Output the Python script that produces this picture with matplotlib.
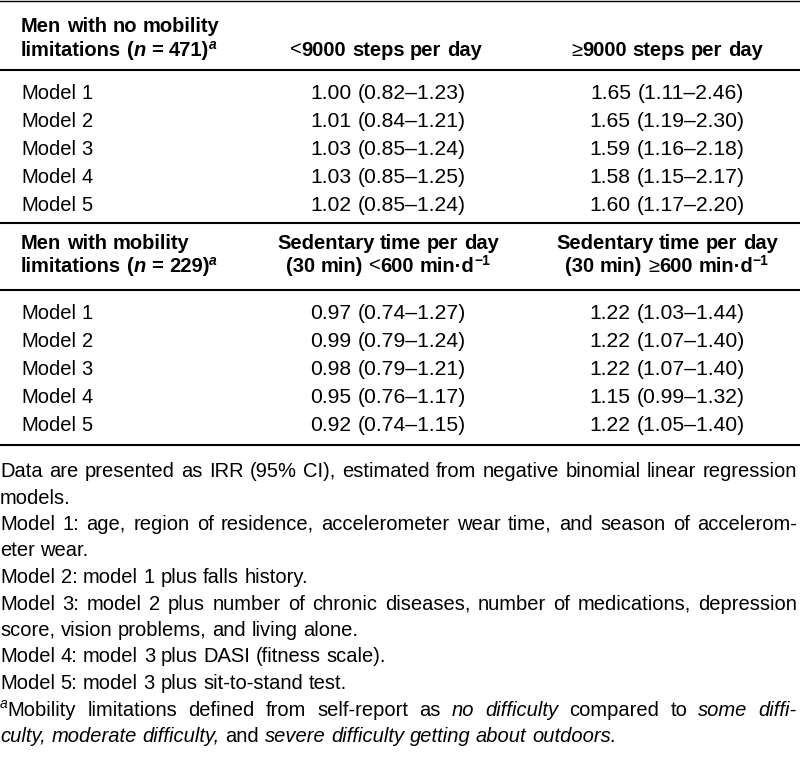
import matplotlib
matplotlib.use("Agg")
import matplotlib.pyplot as plt

plt.rcParams['font.family'] = ['Liberation Sans', 'DejaVu Sans']

# Table data
models = ["Model 1", "Model 2", "Model 3", "Model 4", "Model 5"]

# Men with no mobility limitations: steps per day
lt9000_irr = [1.00, 1.01, 1.03, 1.03, 1.02]
lt9000_lo = [0.82, 0.84, 0.85, 0.85, 0.85]
lt9000_hi = [1.23, 1.21, 1.24, 1.25, 1.24]
ge9000_irr = [1.65, 1.65, 1.59, 1.58, 1.60]
ge9000_lo = [1.11, 1.19, 1.16, 1.15, 1.17]
ge9000_hi = [2.46, 2.30, 2.18, 2.17, 2.20]

# Men with mobility limitations: sedentary time per day
lt600_irr = [0.97, 0.99, 0.98, 0.95, 0.92]
lt600_lo = [0.74, 0.79, 0.79, 0.76, 0.74]
lt600_hi = [1.27, 1.24, 1.21, 1.17, 1.15]
ge600_irr = [1.22, 1.22, 1.22, 1.15, 1.22]
ge600_lo = [1.03, 1.07, 1.07, 0.99, 1.05]
ge600_hi = [1.44, 1.40, 1.40, 1.32, 1.40]

# Header cells: list of lines, each line a list of (text, style) runs
head1_col1 = [[("Men with no mobility", "b")],
              [("limitations (", "b"), ("n", "bi"), (" = 471)", "b"), ("a", "sup_bi")]]
head1_col2 = [[], [("<", "r"), ("9000 steps per day", "b")]]
head1_col3 = [[], [("\u2265", "r"), ("9000 steps per day", "b")]]
head2_col1 = [[("Men with mobility", "b")],
              [("limitations (", "b"), ("n", "bi"), (" = 229)", "b"), ("a", "sup_bi")]]
head2_col2 = [[("Sedentary time per day", "b")],
              [("(30 min) ", "b"), ("<", "r"), ("600 min\u00b7d", "b"), ("\u22121", "sup_b")]]
head2_col3 = [[("Sedentary time per day", "b")],
              [("(30 min) ", "b"), ("\u2265", "r"), ("600 min\u00b7d", "b"), ("\u22121", "sup_b")]]

# Footnotes: (runs, justified)
notes = [
    ([("Data are presented as IRR (95% CI), estimated from negative binomial linear regression", "r")], True),
    ([("models.", "r")], False),
    ([("Model 1: age, region of residence, accelerometer wear time, and season of accelerom-", "r")], True),
    ([("eter wear.", "r")], False),
    ([("Model 2: model 1 plus falls history.", "r")], False),
    ([("Model 3: model 2 plus number of chronic diseases, number of medications, depression", "r")], True),
    ([("score, vision problems, and living alone.", "r")], False),
    ([("Model 4: model 3 plus DASI (fitness scale).", "r")], False),
    ([("Model 5: model 3 plus sit-to-stand test.", "r")], False),
    ([("a", "sup_i"), ("Mobility limitations defined from self-report as ", "r"), ("no difficulty", "i"),
      (" compared to ", "r"), ("some diffi-", "i")], True),
    ([("culty,", "i"), (" ", "r"), ("moderate difficulty,", "i"), (" and ", "r"),
      ("severe difficulty getting about outdoors.", "i")], False),
]

FS = 14.5
SUP = 10
STYLES = {
    "r": dict(weight="normal", style="normal", size=FS, dy=0),
    "d": dict(weight="normal", style="normal", size=15.2, dy=0),   # numeric cells
    "i": dict(weight="normal", style="italic", size=FS, dy=0),
    "b": dict(weight="bold", style="normal", size=FS, dy=0),
    "bi": dict(weight="bold", style="italic", size=FS, dy=0),
    "sup_b": dict(weight="bold", style="normal", size=SUP, dy=-7),
    "sup_bi": dict(weight="bold", style="italic", size=SUP, dy=-7),
    "sup_i": dict(weight="normal", style="italic", size=SUP, dy=-7),
}

fig = plt.figure(figsize=(8, 7.65), dpi=100)
ax = fig.add_axes([0, 0, 1, 1])
ax.set_xlim(0, 800)
ax.set_ylim(765, 0)
ax.axis("off")
renderer = fig.canvas.get_renderer()

_cache = {}


def text_kw(st):
    s = STYLES[st]
    return dict(fontweight=s["weight"], fontstyle=s["style"], fontsize=s["size"], color="black")


def width_of(s, st):
    # advance width, measured between two bars so spaces count
    key = (s, st)
    if key not in _cache:
        t = ax.text(0, 0, "|" + s + "|", **text_kw(st))
        w = t.get_window_extent(renderer).width
        t.remove()
        t = ax.text(0, 0, "||", **text_kw(st))
        w -= t.get_window_extent(renderer).width
        t.remove()
        _cache[key] = w
    return _cache[key]


def split_words(runs):
    words = [[]]
    for txt, st in runs:
        for i, piece in enumerate(txt.split(" ")):
            if i > 0:
                words.append([])
            if piece:
                words[-1].append((piece, st))
    return [w for w in words if w]


def draw_line(x, y, runs, ha="left", right=None):
    words = split_words(runs)
    if not words:
        return
    wlen = [sum(width_of(p, st) for p, st in w) for w in words]
    if right is not None and len(words) > 1:
        gap = (right - x - sum(wlen)) / (len(words) - 1)
    else:
        gap = width_of(" ", words[0][0][1])
    total = sum(wlen) + gap * (len(words) - 1)
    x0 = x - total / 2 if ha == "center" else x
    for w, wl in zip(words, wlen):
        xx = x0
        for p, st in w:
            ax.text(xx, y + STYLES[st]["dy"], p, ha="left", va="baseline", **text_kw(st))
            xx += width_of(p, st)
        x0 += wl + gap


def fmt(v, lo, hi):
    return f"{v:.2f} ({lo:.2f}\u2013{hi:.2f})"


# layout (pixels)
X_LABEL = 21
X_COL2 = 388
X_COL3 = 667
ROW_STEP = 28
RULE_W = 1.5

ax.axhline(1, color="black", lw=1.0)

# section 1
for i, line in enumerate(head1_col1):
    draw_line(X_LABEL, 32 + 24 * i, line)
for i, line in enumerate(head1_col2):
    draw_line(X_COL2 - 2, 32 + 24 * i, line, ha="center")
for i, line in enumerate(head1_col3):
    draw_line(X_COL3, 32 + 24 * i, line, ha="center")
ax.axhline(69.5, color="black", lw=RULE_W)
for i, m in enumerate(models):
    y = 98.5 + ROW_STEP * i
    draw_line(X_LABEL, y, [(m, "r")])
    draw_line(X_COL2, y, [(fmt(lt9000_irr[i], lt9000_lo[i], lt9000_hi[i]), "d")], ha="center")
    draw_line(X_COL3, y, [(fmt(ge9000_irr[i], ge9000_lo[i], ge9000_hi[i]), "d")], ha="center")
ax.axhline(222.5, color="black", lw=RULE_W)

# section 2
for i, line in enumerate(head2_col1):
    draw_line(X_LABEL, 249 + 23 * i, line)
for i, line in enumerate(head2_col2):
    draw_line(X_COL2, 249 + 23 * i, line, ha="center")
for i, line in enumerate(head2_col3):
    draw_line(X_COL3, 249 + 23 * i, line, ha="center")
ax.axhline(289.5, color="black", lw=RULE_W)
for i, m in enumerate(models):
    y = 319 + ROW_STEP * i
    draw_line(X_LABEL, y, [(m, "r")])
    draw_line(X_COL2, y, [(fmt(lt600_irr[i], lt600_lo[i], lt600_hi[i]), "d")], ha="center")
    draw_line(X_COL3, y, [(fmt(ge600_irr[i], ge600_lo[i], ge600_hi[i]), "d")], ha="center")
ax.axhline(445, color="black", lw=RULE_W)

# footnotes
for i, (runs, just) in enumerate(notes):
    draw_line(0, 477 + 26.5 * i, runs, right=797 if just else None)

fig.savefig("out.png", dpi=100, facecolor="white")
